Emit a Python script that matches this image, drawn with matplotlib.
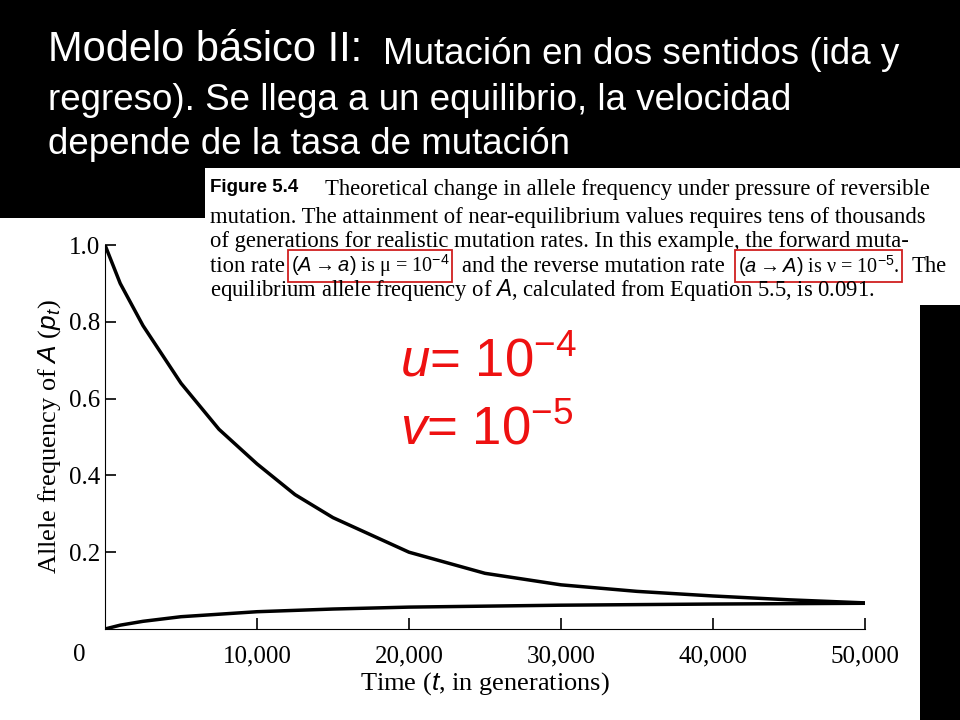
import matplotlib
matplotlib.use("Agg")
import matplotlib.pyplot as plt
from matplotlib.patches import Rectangle

t_top = [0, 1000, 2500, 5000, 7500, 10000, 12500, 15000, 20000, 25000, 30000, 35000, 40000, 45000, 50000]
p_top = [1.0, 0.9, 0.79, 0.64, 0.52, 0.43, 0.35, 0.29, 0.2, 0.145, 0.115, 0.098, 0.086, 0.076, 0.068]
t_bot = [0, 1000, 2500, 5000, 10000, 15000, 20000, 30000, 40000, 50000]
p_bot = [0.0, 0.01, 0.02, 0.032, 0.045, 0.052, 0.057, 0.062, 0.065, 0.067]
xticks = [10000, 20000, 30000, 40000, 50000]
xlabels = ["10,000", "20,000", "30,000", "40,000", "50,000"]
yticks = [0.2, 0.4, 0.6, 0.8, 1.0]
ylabels = ["0.2", "0.4", "0.6", "0.8", "1.0"]

plt.rcParams["mathtext.fontset"] = "custom"
plt.rcParams["mathtext.rm"] = "Liberation Sans"
plt.rcParams["mathtext.it"] = "Liberation Sans:italic"

W, H = 960, 720
fig = plt.figure(figsize=(9.6, 7.2), dpi=100)
fig.patch.set_facecolor("white")

def R(x0, y0, x1, y1, **kw):
    fig.patches.append(Rectangle((x0 / W, 1 - y1 / H), (x1 - x0) / W, (y1 - y0) / H,
                                 transform=fig.transFigure, figure=fig, **kw))

R(0, 0, 960, 218, facecolor="black", edgecolor="none", zorder=0)
R(920, 305, 960, 720, facecolor="black", edgecolor="none", zorder=0)
R(205, 168, 960, 305, facecolor="white", edgecolor="none", zorder=1)

ax = fig.add_axes([105 / W, 1 - 629 / H, 760 / W, 384 / H])
ax.plot(t_top, p_top, color="black", lw=2.5)
ax.plot(t_bot, p_bot, color="black", lw=2.5)
ax.set_xlim(0, 50000)
ax.set_ylim(0, 1.0)
for s in ["top", "right"]:
    ax.spines[s].set_visible(False)
ax.set_xticks(xticks)
ax.set_xticklabels(xlabels, fontfamily="Liberation Serif", fontsize=18)
ax.set_yticks(yticks)
ax.set_yticklabels(ylabels, fontfamily="Liberation Serif", fontsize=18)
ax.tick_params(direction="in", length=8, width=1.2)
ax.tick_params(axis="x", pad=12)
ax.text(-0.025, -0.04, "0", transform=ax.transAxes, ha="right", va="top",
        fontfamily="Liberation Serif", fontsize=18)
ax.set_xlabel("Time ($t$, in generations)", fontfamily="Liberation Serif", fontsize=19, labelpad=2)
ax.set_ylabel("Allele frequency of $A$ ($p_t$)", fontfamily="Liberation Serif", fontsize=19)

fig.text(48 / W, 1 - 50 / H, "Modelo básico II:", color="white", fontsize=30,
         fontfamily="Liberation Sans", va="center")
fig.text(383 / W, 1 - 54 / H, "Mutación en dos sentidos (ida y", color="white", fontsize=26.5,
         fontfamily="Liberation Sans", va="center")
fig.text(48 / W, 1 - 101 / H, "regreso). Se llega a un equilibrio, la velocidad", color="white",
         fontsize=26.5, fontfamily="Liberation Sans", va="center")
fig.text(48 / W, 1 - 145 / H, "depende de la tasa de mutación", color="white",
         fontsize=26.5, fontfamily="Liberation Sans", va="center")

cf = dict(fontfamily="Liberation Serif", fontsize=16.3, va="center", color="black", zorder=3)
fig.text(210 / W, 1 - 188 / H, "Figure 5.4", fontweight="bold", **{**cf, "fontfamily": "Liberation Sans", "fontsize": 13.5})
fig.text(325 / W, 1 - 190 / H, "Theoretical change in allele frequency under pressure of reversible", **cf)
fig.text(210 / W, 1 - 217 / H, "mutation. The attainment of near-equilibrium values requires tens of thousands", **cf)
fig.text(210 / W, 1 - 242 / H, "of generations for realistic mutation rates. In this example, the forward muta-", **cf)
fig.text(210 / W, 1 - 266 / H, "tion rate", **cf)
fig.text(291 / W, 1 - 266 / H, r"$(A \rightarrow a)$ is μ = 10$^{-4}$",
         bbox=dict(facecolor="none", edgecolor="#d02020", lw=1.3, pad=2), **{**cf, "fontsize": 14.5})
fig.text(462 / W, 1 - 266 / H, "and the reverse mutation rate", **cf)
fig.text(738 / W, 1 - 266 / H, r"$(a \rightarrow A)$ is ν = 10$^{-5}$.",
         bbox=dict(facecolor="none", edgecolor="#d02020", lw=1.3, pad=2), **{**cf, "fontsize": 14.5})
fig.text(912 / W, 1 - 266 / H, "The", **cf)
fig.text(210 / W, 1 - 290 / H, "equilibrium allele frequency of $A$, calculated from Equation 5.5, is 0.091.", **cf)

fig.text(400 / W, 1 - 362 / H, r"$\it{u}$= 10$^{-4}$", color="#ee1111", fontsize=38,
         fontfamily="Liberation Sans", va="center")
fig.text(400 / W, 1 - 430 / H, r"$\it{v}$= 10$^{-5}$", color="#ee1111", fontsize=38,
         fontfamily="Liberation Sans", va="center")

fig.savefig("out.png", dpi=100)
